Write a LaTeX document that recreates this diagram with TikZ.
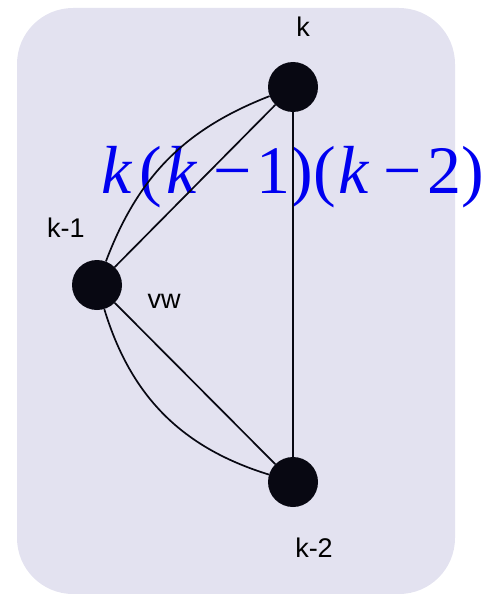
\documentclass[tikz,border=0pt]{standalone}
\usepackage{fontspec}
\setmainfont{Liberation Sans}
\newfontfamily\timesfont{Liberation Serif}
\definecolor{bgcol}{RGB}{227,226,240}
\definecolor{vtxcol}{RGB}{8,8,18}
\definecolor{fmlcol}{RGB}{0,0,240}

\begin{document}
\begin{tikzpicture}[x=1pt,y=-1pt,vertex/.style={circle,fill=vtxcol,minimum size=50pt,inner sep=0pt},lbl/.style={font=\fontsize{27}{27}\selectfont,inner sep=0pt,anchor=base},every edge/.style={draw,line width=1.7pt,vtxcol}]
\useasboundingbox (0,0) rectangle (490,594);
\fill[bgcol,rounded corners=56pt] (17,8) rectangle (455,594);
\node[font=\fontsize{68}{68}\selectfont\timesfont,text=fmlcol,inner sep=0pt,anchor=base west] (fml) at (101,193) {\textit{k}\hspace{7pt}(\hspace{4pt}\textit{k}\hspace{16pt}−\hspace{5pt}1)(\hspace{3pt}\textit{k}\hspace{13pt}−\hspace{6pt}2)};
\node[vertex] (k) at (293,87) {};
\node[vertex] (km1) at (97,285) {};
\node[vertex] (km2) at (293,482) {};
\node[lbl] (lk) at (303,37) {k};
\node[lbl] (lkm1) at (66,237) {k-1};
\node[lbl] (lvw) at (164,308) {vw};
\node[lbl] (lkm2) at (314,557) {k-2};
\path (k) edge (km1);
\path (k) edge[bend right=24] (km1);
\path (km1) edge (km2);
\path (km1) edge[bend right=28] (km2);
\path (k) edge (km2);
\end{tikzpicture}
\end{document}
